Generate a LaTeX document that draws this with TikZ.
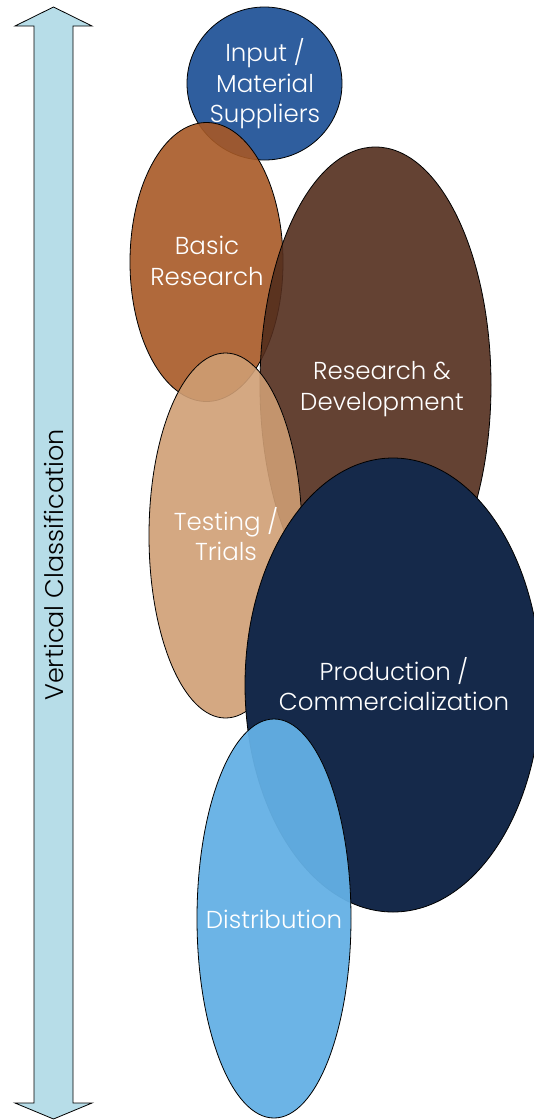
\documentclass[tikz,border=0pt]{standalone}
\usepackage{fontspec}
\setmainfont{Poppins}[UprightFont=* Light]
\usetikzlibrary{shapes.geometric}
\definecolor{arrowfill}{RGB}{183,221,232}
\definecolor{cInput}{RGB}{24,76,147}
\definecolor{cBasic}{RGB}{167,89,38}
\definecolor{cRD}{RGB}{83,45,29}
\definecolor{cTest}{RGB}{207,158,116}
\definecolor{cProd}{RGB}{21,41,74}
\definecolor{cDist}{RGB}{100,176,229}
\tikzset{
  blob/.style={ellipse, draw=black, line width=0.8pt, fill opacity=0.9,
    inner sep=0pt, outer sep=0pt},
  blobtext/.style={text=white, align=center, inner sep=0pt,
    font=\fontsize{24.5}{30.5}\selectfont},
  arrowshape/.style={fill=arrowfill, draw=black, line width=0.8pt, line join=miter},
  vlabel/.style={rotate=90, font=\fontsize{25.5}{28}\selectfont, text=black, inner sep=0pt}
}
\begin{document}
\begin{tikzpicture}[x=1pt,y=-1pt]
\useasboundingbox (0,0) rectangle (534,1120);
% double arrow
\draw[arrowshape] (53.5,7) -- (92,26) -- (73,26) -- (73,1103) -- (92,1103) -- (53.5,1119)
  -- (15,1103) -- (34,1103) -- (34,26) -- (15,26) -- cycle;
\node[vlabel] (vc) at (54,565) {Vertical Classification};
% ellipses
\node[blob, fill=cInput, minimum width=155pt, minimum height=153pt] (input) at (264.5,83.5) {};
\node[blobtext] (tinput) at (265,84) {Input /\\Material\\Suppliers};
\node[blob, fill=cBasic, minimum width=153pt, minimum height=279pt] (basic) at (206.5,262) {};
\node[blobtext] (tbasic) at (207,261) {Basic\\Research};
\node[blob, fill=cRD, minimum width=231pt, minimum height=476pt] (rd) at (375.5,385) {};
\node[blobtext] (trd) at (382,389) {Research \&\\Development};
\node[blob, fill=cTest, minimum width=153pt, minimum height=365pt] (test) at (225.5,535.5) {};
\node[blobtext] (ttest) at (226,534) {Testing /\\Trials};
\node[blob, fill=cProd, fill opacity=1, minimum width=296pt, minimum height=454pt] (prod) at (393,685) {};
\node[blobtext] (tprod) at (394,684) {Production /\\Commercialization};
\node[blob, fill=cDist, fill opacity=0.95, minimum width=154pt, minimum height=399pt] (dist) at (274,918.5) {};
\node[blobtext] (tdist) at (274,919) {Distribution};
\end{tikzpicture}
\end{document}
